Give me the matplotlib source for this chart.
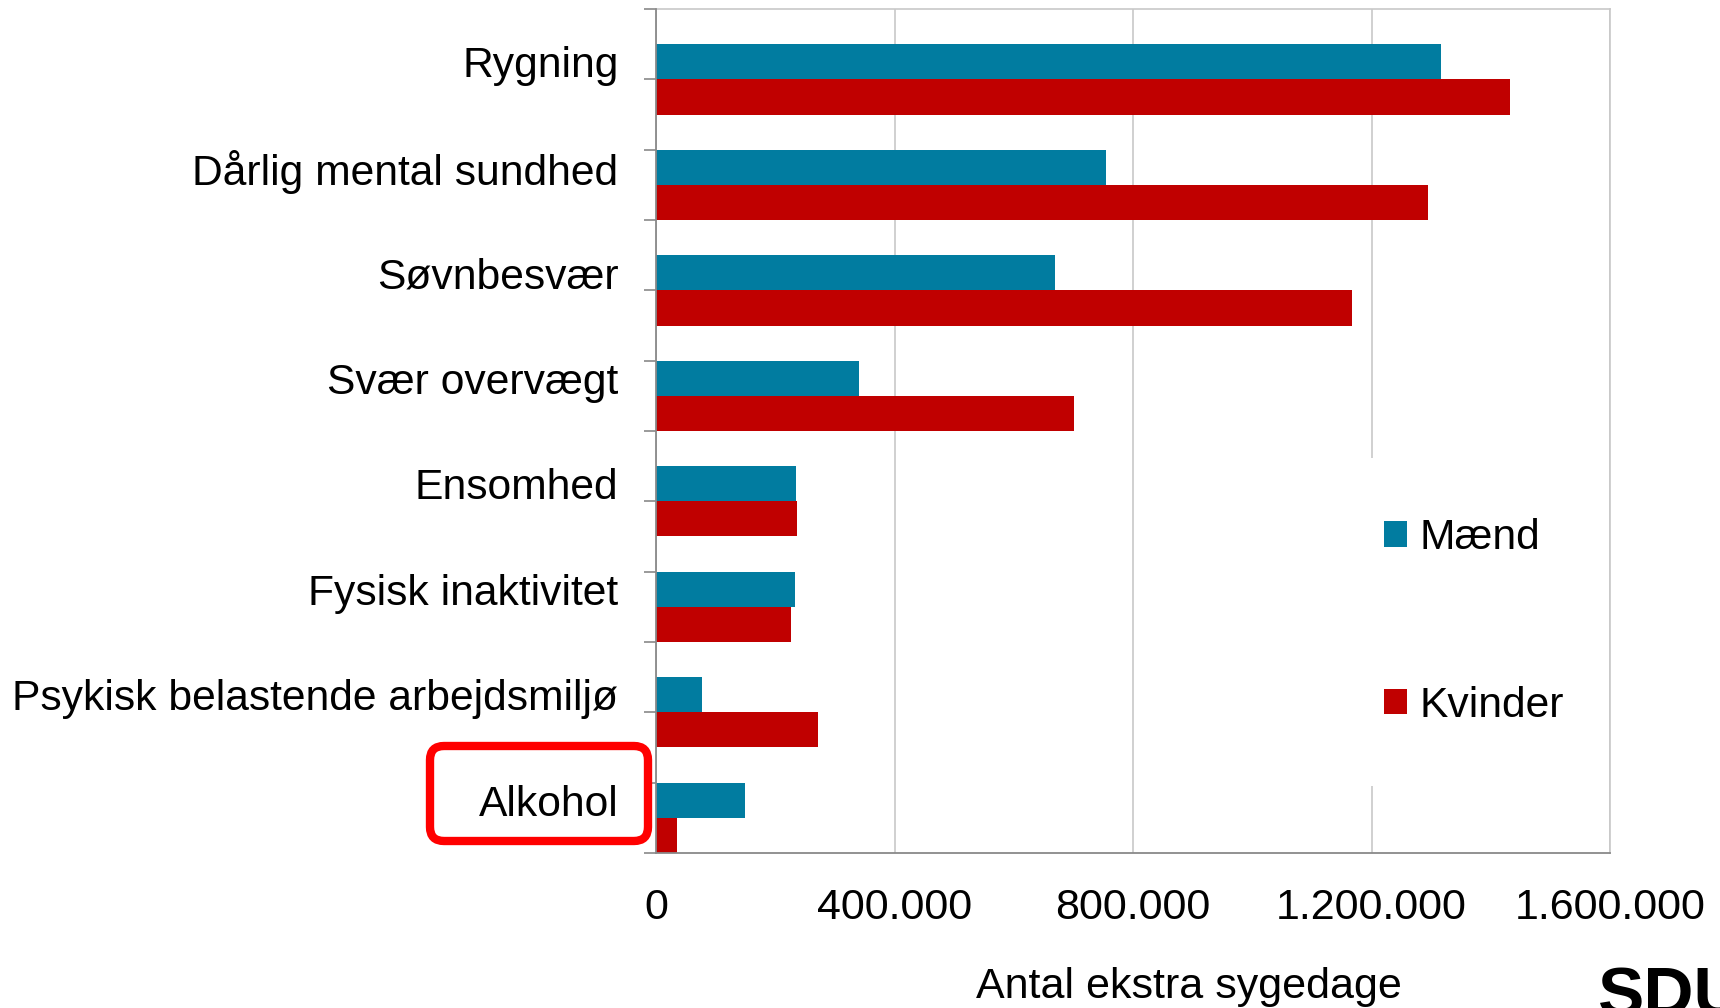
import numpy as np
import matplotlib as mpl
mpl.use('Agg')
import matplotlib.pyplot as plt
from matplotlib.patches import Patch, Rectangle, FancyBboxPatch
from matplotlib.transforms import IdentityTransform

categories = ['Rygning', 'Dårlig mental sundhed', 'Søvnbesvær', 'Svær overvægt',
              'Ensomhed', 'Fysisk inaktivitet', 'Psykisk belastende arbejdsmiljø', 'Alkohol']
maend = [1317000, 754000, 670000, 341000, 235000, 233000, 77000, 150000]
kvinder = [1433000, 1295000, 1167000, 701000, 237000, 226000, 272000, 35000]
xticks = [0, 400000, 800000, 1200000, 1600000]
series_labels = ['Mænd', 'Kvinder']

BLUE = '#017ca0'
RED = '#c00000'
AXIS_GRAY = '#898989'
GRID_GRAY = '#c8c8c8'
W, H = 1720, 1008

plt.rcParams['font.family'] = ['Liberation Sans', 'DejaVu Sans']

fig = plt.figure(figsize=(W / 100, H / 100), dpi=100)
ax = fig.add_axes([656 / W, 1 - 853 / H, (1610 - 656) / W, (853 - 9) / H])

y = np.arange(len(categories))
bh = 1 / 3
ax.barh(y, maend, height=bh, color=BLUE, zorder=3)
ax.barh(y + bh, kvinder, height=bh, color=RED, zorder=3)

ax.set_xlim(0, 1600000)
ax.set_ylim(len(categories) - 0.5, -0.5)

ax.set_xticks(xticks)
ax.set_xticklabels([f'{v:,.0f}'.replace(',', '.') for v in xticks], fontsize=31)
ax.tick_params(axis='x', length=0, pad=25)

ax.set_yticks(y)
ax.set_yticklabels(categories, fontsize=30.7)
ax.tick_params(axis='y', which='major', length=0, pad=27)
ax.set_yticks(-0.5 + np.arange(13) * 2 / 3, minor=True)
ax.tick_params(axis='y', which='minor', length=8.5, width=1.2, color=AXIS_GRAY, direction='out')

ax.grid(axis='x', color=GRID_GRAY, linewidth=1.2, zorder=0)
ax.set_axisbelow(True)
for s in ['left', 'bottom']:
    ax.spines[s].set_color(AXIS_GRAY)
    ax.spines[s].set_linewidth(1.3)
    ax.spines[s].set_zorder(4)
for s in ['top', 'right']:
    ax.spines[s].set_color(GRID_GRAY)
    ax.spines[s].set_linewidth(1.2)

# white area behind the legend that hides the gridline
ax.add_patch(Rectangle((1350, H - 786), 120, 786 - 458, transform=IdentityTransform(),
                       facecolor='white', edgecolor='none', zorder=1))

handles = [Patch(facecolor=BLUE), Patch(facecolor=RED)]
leg = fig.legend(handles, series_labels, loc='center left',
                 bbox_to_anchor=(1384 / W, 1 - 622 / H), frameon=False,
                 fontsize=30.7, handlelength=0.53, handleheight=0.53,
                 handletextpad=0.3, labelspacing=3.0, borderpad=0, borderaxespad=0)

fig.text(1189 / W, 1 - 987 / H, 'Antal ekstra sygedage', fontsize=31,
         ha='center', va='center')
fig.text(1598 / W, 1 - 1016 / H, 'SDU', fontsize=50, fontweight='bold',
         ha='left', va='baseline')

box = FancyBboxPatch((430, H - 841), 218, 95, boxstyle='round,pad=0,rounding_size=14',
                     transform=IdentityTransform(), facecolor='none',
                     edgecolor='#ff0000', linewidth=6)
fig.add_artist(box)

fig.savefig('out.png', dpi=100)
